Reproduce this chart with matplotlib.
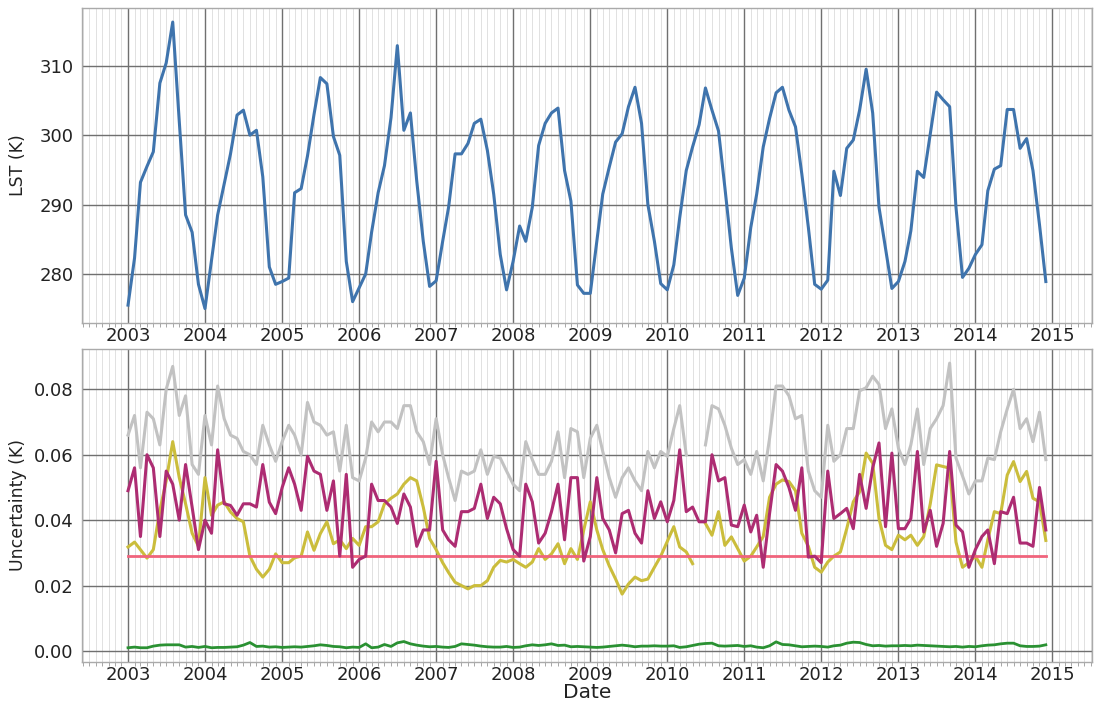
import numpy as np
import pandas as pd
import matplotlib
matplotlib.use("Agg")
import matplotlib.pyplot as plt
import matplotlib.dates as mdates
from matplotlib.ticker import MultipleLocator

dates = pd.date_range("2003-01-01", "2014-12-01", freq="MS")

lst = [275.5, 282.3, 293.2, 295.5, 297.6, 307.5, 310.4, 316.3, 302.0, 288.5, 286.0, 278.5,
       275.0, 282.0, 288.5, 293.0, 297.3, 302.9, 303.6, 300.0, 300.7, 294.0, 281.0, 278.5,
       278.9, 279.4, 291.7, 292.3, 297.0, 303.0, 308.3, 307.4, 299.8, 297.1, 281.8, 276.0,
       278.0, 280.0, 286.0, 291.7, 295.6, 302.5, 312.9, 300.7, 303.2, 293.4, 284.7, 278.2,
       279.0, 284.7, 289.6, 297.3, 297.3, 298.8, 301.7, 302.3, 297.8, 291.5, 282.8, 277.7,
       281.8, 286.9, 284.7, 289.6, 298.5, 301.7, 303.2, 303.9, 294.9, 290.5, 278.4, 277.2,
       277.2, 284.7, 291.5, 295.4, 299.0, 300.2, 304.1, 306.9, 301.7, 290.0, 284.7, 278.6,
       277.7, 281.3, 288.1, 294.9, 298.3, 301.5, 306.8, 303.6, 300.6, 292.5, 283.7, 276.9,
       279.4, 286.7, 291.5, 298.3, 302.4, 306.1, 306.9, 303.6, 301.2, 294.4, 286.7, 278.5,
       277.8, 279.1, 294.8, 291.3, 298.1, 299.3, 303.6, 309.5, 303.2, 289.6, 283.7, 277.9,
       278.9, 281.8, 286.2, 294.8, 293.9, 300.2, 306.2, 305.1, 304.1, 289.6, 279.5, 280.8,
       282.8, 284.2, 292.0, 295.1, 295.6, 303.7, 303.7, 298.1, 299.5, 294.9, 287.1, 278.9]

unc_grey = [0.066, 0.072, 0.056, 0.073, 0.071, 0.063, 0.080, 0.087, 0.072, 0.078, 0.057, 0.054,
            0.072, 0.063, 0.081, 0.071, 0.066, 0.065, 0.061, 0.060, 0.057, 0.069, 0.063, 0.058,
            0.064, 0.069, 0.066, 0.060, 0.076, 0.070, 0.069, 0.066, 0.067, 0.055, 0.069, 0.053,
            0.052, 0.059, 0.070, 0.067, 0.070, 0.070, 0.068, 0.075, 0.075, 0.067, 0.064, 0.057,
            0.071, 0.060, 0.053, 0.046, 0.055, 0.054, 0.055, 0.0615, 0.054, 0.0595, 0.059, 0.055,
            0.051, 0.049, 0.064, 0.0585, 0.054, 0.054, 0.058, 0.067, 0.053, 0.068, 0.067, 0.053,
            0.065, 0.069, 0.061, 0.053, 0.047, 0.053, 0.056, 0.052, 0.049, 0.061, 0.056, 0.061,
            0.0595, 0.068, 0.075, 0.060, np.nan, np.nan, 0.063, 0.075, 0.074, 0.069, 0.062, 0.057,
            0.0585, 0.054, 0.061, 0.052, 0.065, 0.081, 0.081, 0.078, 0.071, 0.072, 0.055, 0.049,
            0.047, 0.069, 0.058, 0.060, 0.068, 0.068, 0.0795, 0.0805, 0.084, 0.0815, 0.068, 0.074,
            0.062, 0.057, 0.063, 0.074, 0.057, 0.068, 0.071, 0.075, 0.088, 0.059, 0.0535, 0.048,
            0.052, 0.052, 0.059, 0.0585, 0.067, 0.074, 0.080, 0.068, 0.071, 0.064, 0.073, 0.0585]

unc_purple = [0.049, 0.056, 0.035, 0.060, 0.056, 0.035, 0.055, 0.051, 0.040, 0.057, 0.044, 0.031,
              0.040, 0.036, 0.0615, 0.045, 0.0445, 0.0415, 0.045, 0.045, 0.044, 0.057, 0.0455, 0.042,
              0.050, 0.056, 0.051, 0.043, 0.0595, 0.055, 0.054, 0.043, 0.052, 0.029, 0.054, 0.0256,
              0.028, 0.029, 0.051, 0.046, 0.046, 0.044, 0.039, 0.048, 0.044, 0.032, 0.037, 0.037,
              0.058, 0.037, 0.034, 0.032, 0.0426, 0.0426, 0.0436, 0.051, 0.0405, 0.047, 0.045, 0.0374,
              0.031, 0.029, 0.051, 0.0456, 0.033, 0.036, 0.0426, 0.051, 0.034, 0.053, 0.053, 0.0275,
              0.035, 0.053, 0.0405, 0.037, 0.030, 0.042, 0.043, 0.036, 0.033, 0.049, 0.0405, 0.0456,
              0.0395, 0.046, 0.0615, 0.0426, 0.044, 0.0395, 0.0395, 0.060, 0.052, 0.053, 0.0385, 0.038,
              0.0446, 0.0364, 0.0415, 0.0256, 0.042, 0.057, 0.055, 0.050, 0.043, 0.056, 0.0287, 0.029,
              0.027, 0.055, 0.0405, 0.042, 0.0436, 0.0374, 0.054, 0.0436, 0.056, 0.0636, 0.038, 0.0605,
              0.0374, 0.0374, 0.0405, 0.061, 0.0364, 0.043, 0.032, 0.039, 0.061, 0.0385, 0.0364, 0.0256,
              0.031, 0.035, 0.037, 0.0267, 0.0426, 0.042, 0.047, 0.033, 0.033, 0.032, 0.050, 0.037]

unc_yellow = [0.0318, 0.0333, 0.031, 0.0284, 0.031, 0.043, 0.052, 0.064, 0.053, 0.045, 0.036, 0.032,
              0.053, 0.0415, 0.0446, 0.0456, 0.0425, 0.0405, 0.0395, 0.029, 0.025, 0.0226, 0.025, 0.0297,
              0.027, 0.027, 0.0285, 0.029, 0.0364, 0.0308, 0.0359, 0.0395, 0.0328, 0.034, 0.0313, 0.0344,
              0.0323, 0.038, 0.038, 0.0395, 0.045, 0.0467, 0.048, 0.051, 0.053, 0.052, 0.044, 0.0344,
              0.031, 0.027, 0.024, 0.021, 0.020, 0.019, 0.020, 0.020, 0.0215, 0.0256, 0.0277, 0.0272,
              0.028, 0.0267, 0.0256, 0.0272, 0.0313, 0.028, 0.0297, 0.0328, 0.0267, 0.0313, 0.028, 0.037,
              0.0456, 0.037, 0.031, 0.026, 0.022, 0.0174, 0.0205, 0.0226, 0.0215, 0.022, 0.0256, 0.029,
              0.0335, 0.038, 0.0318, 0.0303, 0.0267, np.nan, 0.039, 0.0354, 0.0426, 0.0323, 0.0349, 0.0313,
              0.0275, 0.029, 0.0318, 0.035, 0.047, 0.051, 0.0523, 0.0518, 0.049, 0.036, 0.032, 0.0256,
              0.0241, 0.0272, 0.029, 0.0303, 0.0374, 0.0456, 0.0487, 0.0605, 0.0574, 0.0405, 0.0323, 0.031,
              0.0354, 0.034, 0.0354, 0.0323, 0.035, 0.045, 0.0569, 0.0564, 0.0559, 0.0333, 0.0256, 0.027,
              0.029, 0.0256, 0.034, 0.0426, 0.042, 0.0538, 0.0579, 0.0518, 0.0549, 0.0467, 0.0456, 0.0338]

unc_green = [0.0010, 0.0012, 0.0010, 0.0010, 0.0015, 0.0018, 0.0019, 0.0019, 0.0019, 0.0012, 0.0014, 0.0011,
             0.0014, 0.0010, 0.0011, 0.0011, 0.0012, 0.0013, 0.0018, 0.0026, 0.0014, 0.0015, 0.0012, 0.0013,
             0.0011, 0.0012, 0.0013, 0.0012, 0.0014, 0.0016, 0.0019, 0.0017, 0.0014, 0.0013, 0.0010, 0.0012,
             0.0011, 0.0022, 0.0010, 0.0012, 0.0020, 0.0014, 0.0025, 0.0029, 0.0022, 0.0018, 0.0015, 0.0013,
             0.0014, 0.0012, 0.0011, 0.0014, 0.0022, 0.0020, 0.0018, 0.0015, 0.0013, 0.0012, 0.0012, 0.0014,
             0.0011, 0.0012, 0.0016, 0.0019, 0.0017, 0.0019, 0.0022, 0.0017, 0.0018, 0.0013, 0.0014, 0.0013,
             0.0012, 0.0011, 0.0012, 0.0014, 0.0016, 0.0018, 0.0016, 0.0013, 0.0015, 0.0015, 0.0016, 0.0015,
             0.0015, 0.0016, 0.0011, 0.0013, 0.0017, 0.0021, 0.0023, 0.0024, 0.0016, 0.0015, 0.0016, 0.0017,
             0.0014, 0.0016, 0.0012, 0.0010, 0.0016, 0.0028, 0.0020, 0.0019, 0.0016, 0.0013, 0.0014, 0.0015,
             0.0014, 0.0012, 0.0016, 0.0018, 0.0024, 0.0027, 0.0026, 0.0020, 0.0016, 0.0017, 0.0015, 0.0016,
             0.0016, 0.0017, 0.0016, 0.0018, 0.0017, 0.0016, 0.0015, 0.0014, 0.0013, 0.0014, 0.0012, 0.0014,
             0.0013, 0.0016, 0.0018, 0.0019, 0.0022, 0.0024, 0.0024, 0.0016, 0.0014, 0.0014, 0.0015, 0.0019]

unc_pink_value = 0.029

fig = plt.figure(figsize=(10.95, 7.02), dpi=100)
ax1 = fig.add_axes([0.075, 0.540, 0.922, 0.449])
ax2 = fig.add_axes([0.075, 0.057, 0.922, 0.446])

ax1.plot(dates, lst, color="#3f74ad", lw=2.2)

ax2.plot(dates, unc_grey, color="#c2c2c2", lw=2.2)
ax2.plot(dates, unc_yellow, color="#cbbd3c", lw=2.2)
ax2.plot(dates, np.full(len(dates), unc_pink_value), color="#f0647c", lw=2.0)
ax2.plot(dates, unc_purple, color="#ad2c72", lw=2.2)
ax2.plot(dates, unc_green, color="#2a9132", lw=2.0)

ax1.set_ylabel("LST (K)", fontsize=12.5, color="#222222")
ax2.set_ylabel("Uncertainty (K)", fontsize=12.5, color="#222222")
ax2.set_xlabel("Date", fontsize=14.5, color="#222222")
ax1.yaxis.set_label_coords(-0.055, 0.5)
ax2.yaxis.set_label_coords(-0.055, 0.5)
ax2.xaxis.set_label_coords(0.5, -0.068)

ax1.yaxis.set_major_locator(MultipleLocator(10))
ax2.yaxis.set_major_locator(MultipleLocator(0.02))

for ax in (ax1, ax2):
    ax.xaxis.set_major_locator(mdates.YearLocator())
    ax.xaxis.set_major_formatter(mdates.DateFormatter("%Y"))
    ax.xaxis.set_minor_locator(mdates.MonthLocator())
    ax.set_axisbelow(True)
    ax.grid(which="major", color="#707070", lw=1.0)
    ax.grid(which="minor", axis="x", color="#dcdcdc", lw=0.6)
    ax.tick_params(which="major", labelsize=13, colors="#222222", length=0)
    ax.tick_params(which="major", axis="x", pad=3)
    ax.tick_params(which="major", axis="y", pad=6)
    ax.tick_params(which="minor", axis="x", length=3, color="#999999")
    for s in ax.spines.values():
        s.set_color("#aaaaaa")
        s.set_linewidth(1.0)

fig.savefig("out.png", dpi=100)
